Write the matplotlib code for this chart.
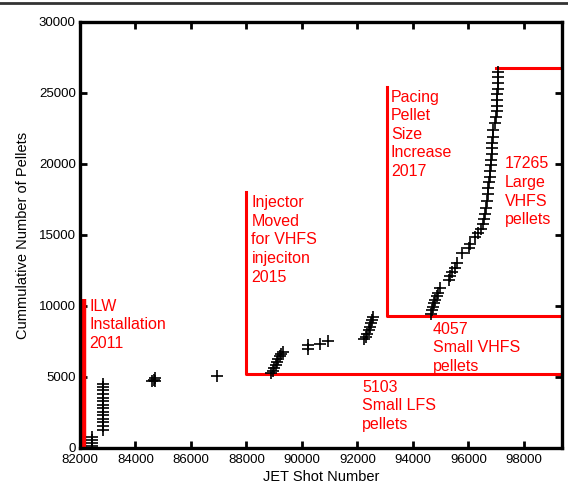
import matplotlib
matplotlib.use("Agg")
import matplotlib.pyplot as plt
from matplotlib.lines import Line2D

plt.rcParams['font.family'] = ['Liberation Sans', 'DejaVu Sans']

# ---- data ----
shots = [82420, 82420, 82420, 82420,
         82830, 82830, 82830, 82830, 82830, 82830, 82830, 82830, 82830, 82830, 82830, 82830, 82830, 82830,
         84600, 84650, 84700, 84700,
         86930,
         88900, 88950, 89000, 89050, 89100, 89150, 89200, 89250, 89300,
         90220, 90220, 90650, 90950,
         92250, 92300, 92350, 92400, 92450, 92500, 92520, 92550,
         94650, 94700, 94730, 94760, 94800, 94850, 94900, 94970, 95300, 95350,
         95420, 95500, 95580, 95750, 96030, 96070, 96250, 96350, 96450, 96520,
         96550, 96600, 96630, 96670, 96700, 96720, 96740, 96760, 96780, 96800,
         96820, 96840, 96850, 96860, 96880, 96900, 96950, 97000, 97020, 97030,
         97040, 97040, 97050, 97050, 97050, 97050]
pellets = [150, 350, 550, 800,
           1300, 1550, 1800, 2050, 2300, 2550, 2800, 3050, 3300, 3550, 3800, 4050, 4300, 4500,
           4700, 4800, 4900, 4750,
           5080,
           5250, 5450, 5650, 5850, 6050, 6250, 6450, 6650, 6750,
           7000, 7250, 7350, 7500,
           7650, 7850, 8050, 8300, 8550, 8800, 9000, 9200,
           9450, 9700, 9950, 10200, 10450, 10700, 10950, 11300, 11800, 12100,
           12400, 12700, 13000, 13700, 14100, 14400, 14850, 15150, 15450, 15800,
           16100, 16500, 16900, 17400, 17900, 18300, 18700, 19100, 19500, 19900,
           20300, 20700, 21100, 21500, 21900, 22400, 22900, 23300, 23700, 24100,
           24500, 24900, 25300, 25700, 26100, 26450]

ilw_shot, ilw_top = 82150, 10500
inj_shot, inj_top, inj_level = 88000, 18000, 5200
pace_shot, pace_top, pace_level = 93050, 25400, 9320
large_shot, large_level = 97000, 26750

xticks = list(range(82000, 99000, 2000))
yticks = list(range(0, 30001, 5000))

red = '#ff0000'
fig = plt.figure(figsize=(5.68, 4.91), dpi=100)
ax = fig.add_axes([0.1408, 0.0876, 0.8486, 0.8676])
xmax = 99370

ax.plot(shots, pellets, linestyle='none', marker='+', color='black',
        markersize=8, markeredgewidth=1.2, zorder=3)

# annotation lines
ax.plot([ilw_shot, ilw_shot], [0, ilw_top], color=red, lw=3.2, solid_capstyle='butt', zorder=2)
ax.plot([inj_shot, inj_shot, xmax], [inj_top, inj_level, inj_level], color=red, lw=2.2, zorder=2)
ax.plot([pace_shot, pace_shot, xmax], [pace_top, pace_level, pace_level], color=red, lw=2.2, zorder=2)
ax.plot([large_shot, xmax], [large_level, large_level], color=red, lw=2.2, zorder=2)

ts = 11.5
kw = dict(color=red, fontsize=ts, va='top', ha='left', linespacing=1.3)
ax.text(82350, 10500, 'ILW\nInstallation\n2011', **kw)
ax.text(88180, 17800, 'Injector\nMoved\nfor VHFS\ninjeciton\n2015', **kw)
ax.text(93200, 25240, 'Pacing\nPellet\nSize\nIncrease\n2017', **kw)
ax.text(97300, 20530, '17265\nLarge\nVHFS\npellets', **kw)
ax.text(92170, 4800, '5103\nSmall LFS\npellets', **kw)
ax.text(94710, 8900, '4057\nSmall VHFS\npellets', **kw)

ax.set_xlim(82000, xmax)
ax.set_ylim(0, 30000)
ax.set_xticks(xticks)
ax.set_yticks(yticks)
ax.tick_params(direction='in', top=True, right=True, length=5, width=2,
               labelsize=9.5)
ax.tick_params(axis='x', pad=4)
ax.tick_params(axis='y', pad=3)
for s in ax.spines.values():
    s.set_linewidth(2.4)
ax.set_xlabel('JET Shot Number', fontsize=10.5, labelpad=3)
ax.set_ylabel('Cummulative Number of Pellets', fontsize=10.5, labelpad=6)

fig.add_artist(Line2D([0, 1], [0.994, 0.994], transform=fig.transFigure,
                      color='#333333', lw=2))

fig.savefig('out.png', dpi=100)
